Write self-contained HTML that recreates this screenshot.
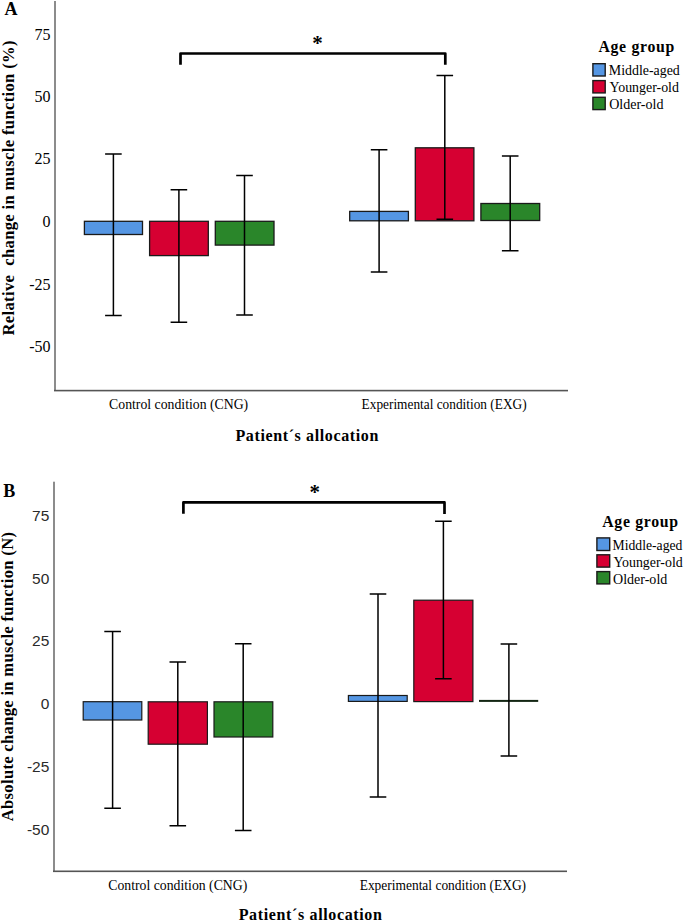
<!DOCTYPE html>
<html><head><meta charset="utf-8">
<style>
html,body{margin:0;padding:0;background:#fff;}
body{width:685px;height:921px;overflow:hidden;}
svg{display:block;}
.s{font-family:"Liberation Serif",serif;fill:#000;}
.b{font-family:"Liberation Serif",serif;font-weight:bold;fill:#000;}
.a{font-family:"Liberation Sans",sans-serif;fill:#2a2a2a;}
</style></head><body>
<svg width="685" height="921" viewBox="0 0 685 921">
<rect width="685" height="921" fill="#fff"/>

<!-- ================= CHART A ================= -->
<text class="b" x="4.6" y="15" font-size="18">A</text>

<!-- axes -->
<rect x="54" y="1" width="2" height="390" fill="#8c8c8c"/>
<rect x="54" y="389.8" width="514" height="1.6" fill="#555"/>

<!-- y tick labels -->
<g class="s" font-size="16" text-anchor="end">
<text x="50.5" y="40">75</text>
<text x="50.5" y="102.4">50</text>
<text x="50.5" y="164.4">25</text>
<text x="50.5" y="227.2">0</text>
<text x="50.5" y="289.6">-25</text>
<text x="50.5" y="352">-50</text>
</g>

<!-- y title -->
<text class="b" font-size="16.6" transform="translate(14.1,335.5) rotate(-90)" x="0" y="0" textLength="295" lengthAdjust="spacing" xml:space="preserve" style="white-space:pre">Relative  change in muscle function (%)</text>

<!-- bars A -->
<g stroke="#1a1a1a" stroke-width="1.3">
<rect x="84.4" y="221.3" width="58.1" height="13.2" fill="#5596e3"/>
<rect x="149.6" y="221.3" width="58.7" height="34.3" fill="#d60032"/>
<rect x="215.3" y="221.3" width="58.7" height="23.8" fill="#2a862a"/>
<rect x="349.7" y="211.4" width="58.7" height="9.4" fill="#5596e3"/>
<rect x="415.3" y="147.8" width="58.6" height="73" fill="#d60032"/>
<rect x="480.9" y="203.5" width="58.8" height="17" fill="#2a862a"/>
</g>

<!-- error bars A -->
<g stroke="#000" stroke-width="1.5" fill="none">
<path d="M113.4 154.1V315.4M105.1 154.1H121.7M105.1 315.4H121.7"/>
<path d="M178.9 189.7V322.3M170.6 189.7H187.2M170.6 322.3H187.2"/>
<path d="M244.5 175.5V315.1M236.2 175.5H252.8M236.2 315.1H252.8"/>
<path d="M379.1 149.8V272.1M370.8 149.8H387.4M370.8 272.1H387.4"/>
<path d="M444.8 75.4V219.3M436.5 75.4H453.1M436.5 219.3H453.1"/>
<path d="M510.2 155.9V250.8M501.9 155.9H518.5M501.9 250.8H518.5"/>
</g>

<!-- significance bracket A -->
<path d="M180.5 64.8V53.5H445.3V64.8" stroke="#000" stroke-width="2.7" fill="none" stroke-linejoin="round"/>
<text class="b" x="317.6" y="50.2" font-size="21" text-anchor="middle">*</text>

<!-- category labels A -->
<text class="s" x="109.1" y="408.8" font-size="15.5" textLength="139.1" lengthAdjust="spacingAndGlyphs">Control condition (CNG)</text>
<text class="s" x="361.6" y="409.1" font-size="15.5" textLength="165" lengthAdjust="spacingAndGlyphs">Experimental condition (EXG)</text>
<text class="b" x="235.4" y="441.1" font-size="16" textLength="143" lengthAdjust="spacing">Patient´s allocation</text>

<!-- legend A -->
<text class="b" x="598.4" y="52.2" font-size="15.8" textLength="75.9" lengthAdjust="spacing" >Age group</text>
<g stroke="#1a1a1a" stroke-width="1.4">
<rect x="592.9" y="63.7" width="12.3" height="12.3" fill="#5596e3"/>
<rect x="592.9" y="80.6" width="12.3" height="12.3" fill="#d60032"/>
<rect x="592.9" y="97.3" width="12.3" height="12.3" fill="#2a862a"/>
</g>
<g class="s" font-size="15">
<text x="608.8" y="75.4" textLength="71" lengthAdjust="spacingAndGlyphs">Middle-aged</text>
<text x="609.6" y="92.3" textLength="69.3" lengthAdjust="spacingAndGlyphs">Younger-old</text>
<text x="609.2" y="109.1" textLength="54.3" lengthAdjust="spacingAndGlyphs">Older-old</text>
</g>

<!-- ================= CHART B ================= -->
<text class="b" x="3.2" y="496.5" font-size="18">B</text>

<rect x="53" y="481.7" width="2" height="390" fill="#8c8c8c"/>
<rect x="53" y="870.5" width="514" height="1.6" fill="#555"/>

<g class="a" font-size="15.5" text-anchor="end">
<text x="49.3" y="521">75</text>
<text x="49.3" y="583.7">50</text>
<text x="49.3" y="646.4">25</text>
<text x="49.3" y="709.1">0</text>
<text x="49.3" y="771.8">-25</text>
<text x="49.3" y="834.5">-50</text>
</g>

<text class="b" font-size="16.6" transform="translate(13.2,821.2) rotate(-90)" x="0" y="0" textLength="289.2" lengthAdjust="spacing">Absolute change in muscle function (N)</text>

<g stroke="#1a1a1a" stroke-width="1.2">
<rect x="83.2" y="701.7" width="58.6" height="18.3" fill="#5596e3"/>
<rect x="148.2" y="701.8" width="59.2" height="42.4" fill="#d60032"/>
<rect x="214" y="701.8" width="58.8" height="35.2" fill="#2a862a"/>
<rect x="348.4" y="695.5" width="58.8" height="5.9" fill="#5596e3"/>
<rect x="413.8" y="600.2" width="59.1" height="101.4" fill="#d60032"/>
</g>
<rect x="479" y="699.9" width="59.2" height="2" fill="#132613"/>

<g stroke="#000" stroke-width="1.5" fill="none">
<path d="M112.6 631.6V808.2M104.3 631.6H120.9M104.3 808.2H120.9"/>
<path d="M177.8 662V825.7M169.5 662H186.1M169.5 825.7H186.1"/>
<path d="M243.2 643.8V830.4M234.9 643.8H251.5M234.9 830.4H251.5"/>
<path d="M378 594.1V797.1M369.7 594.1H386.3M369.7 797.1H386.3"/>
<path d="M443.4 521.2V678.7M435.1 521.2H451.7M435.1 678.7H451.7"/>
<path d="M508.9 644V756.1M500.6 644H517.2M500.6 756.1H517.2"/>
</g>

<path d="M183.4 513.8V502.4H444.5V513.9" stroke="#000" stroke-width="2.7" fill="none" stroke-linejoin="round"/>
<text class="b" x="314.7" y="498.6" font-size="21" text-anchor="middle">*</text>

<text class="s" x="108.3" y="889.8" font-size="15.5" textLength="139" lengthAdjust="spacingAndGlyphs">Control condition (CNG)</text>
<text class="s" x="359.7" y="889.5" font-size="15.5" textLength="166.4" lengthAdjust="spacingAndGlyphs">Experimental condition (EXG)</text>
<text class="b" x="238.7" y="919.6" font-size="16" textLength="143.2" lengthAdjust="spacing">Patient´s allocation</text>

<text class="b" x="602.2" y="526.9" font-size="15.8" textLength="75.9" lengthAdjust="spacing" >Age group</text>
<g stroke="#1a1a1a" stroke-width="1.4">
<rect x="596.9" y="537.9" width="12.8" height="12.6" fill="#5596e3"/>
<rect x="596.9" y="554.8" width="12.8" height="12.3" fill="#d60032"/>
<rect x="596.9" y="571.6" width="12.8" height="12.3" fill="#2a862a"/>
</g>
<g class="s" font-size="15">
<text x="612.6" y="549.9" textLength="69.8" lengthAdjust="spacingAndGlyphs">Middle-aged</text>
<text x="613.4" y="566.6" textLength="69.3" lengthAdjust="spacingAndGlyphs">Younger-old</text>
<text x="613" y="583.5" textLength="54.3" lengthAdjust="spacingAndGlyphs">Older-old</text>
</g>
</svg>
</body></html>
